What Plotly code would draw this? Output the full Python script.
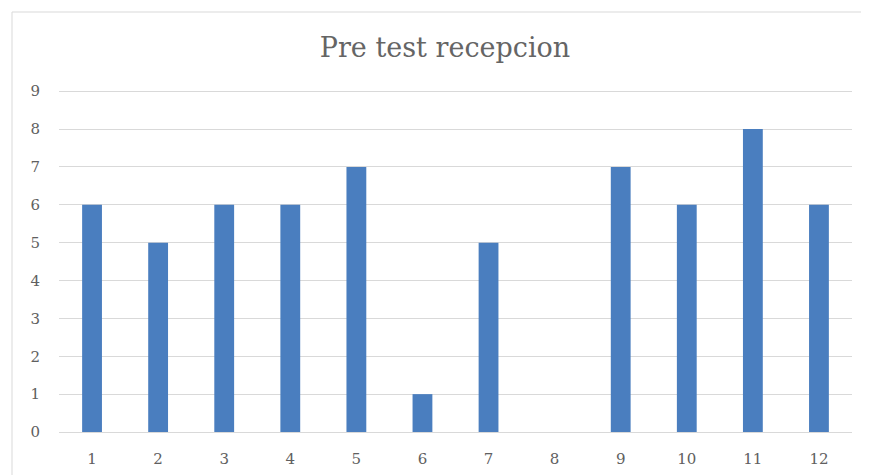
import plotly.graph_objects as go

categories = [str(i) for i in range(1, 13)]
values = [6, 5, 6, 6, 7, 1, 5, 0, 7, 6, 8, 6]
y_ticks = list(range(0, 10))
title = "Pre test recepcion"

OFF = 8  # default page body margin
W, H = 869 - OFF, 475 - OFF
L, R, T, B = 59 - OFF, 17, 90 - OFF, 43
pw, ph = W - L - R, H - T - B

def px_x(p):
    return (p - OFF - L) / pw

def px_y(p):
    return (H - B - (p - OFF)) / ph

fig = go.Figure(go.Bar(x=categories, y=values, marker_color="#4a7ebf",
                       marker_line_width=0))

fig.update_layout(
    width=W, height=H,
    margin=dict(l=L, r=R, t=T, b=B),
    paper_bgcolor="white", plot_bgcolor="white",
    bargap=0.7,
    showlegend=False,
    font=dict(family="DejaVu Serif, Liberation Serif, serif", color="#595959"),
    title=dict(text=title, x=px_x(445), xanchor="center", xref="paper",
               y=1 - (48 - OFF) / H, yanchor="middle", automargin=False,
               font=dict(size=27, color="#656565",
                         family="DejaVu Serif, Liberation Serif, serif")),
    xaxis=dict(type="category", showgrid=False, showline=False, ticks="",
               automargin=False,
               tickfont=dict(size=15, color="#606060"), ticklabelstandoff=16),
    yaxis=dict(range=[0, 9.03], tickvals=y_ticks, showgrid=True,
               automargin=False,
               gridcolor="#d9d9d9", gridwidth=1, zeroline=True,
               zerolinecolor="#d9d9d9", zerolinewidth=1, showline=False,
               ticks="", tickfont=dict(size=15, color="#606060"),
               ticklabelstandoff=18),
    shapes=[dict(type="rect", xref="paper", yref="paper",
                 x0=px_x(12), x1=px_x(866), y0=px_y(490), y1=px_y(12),
                 line=dict(color="#d9d9d9", width=1), layer="below")],
)

fig.write_html("out.html")
